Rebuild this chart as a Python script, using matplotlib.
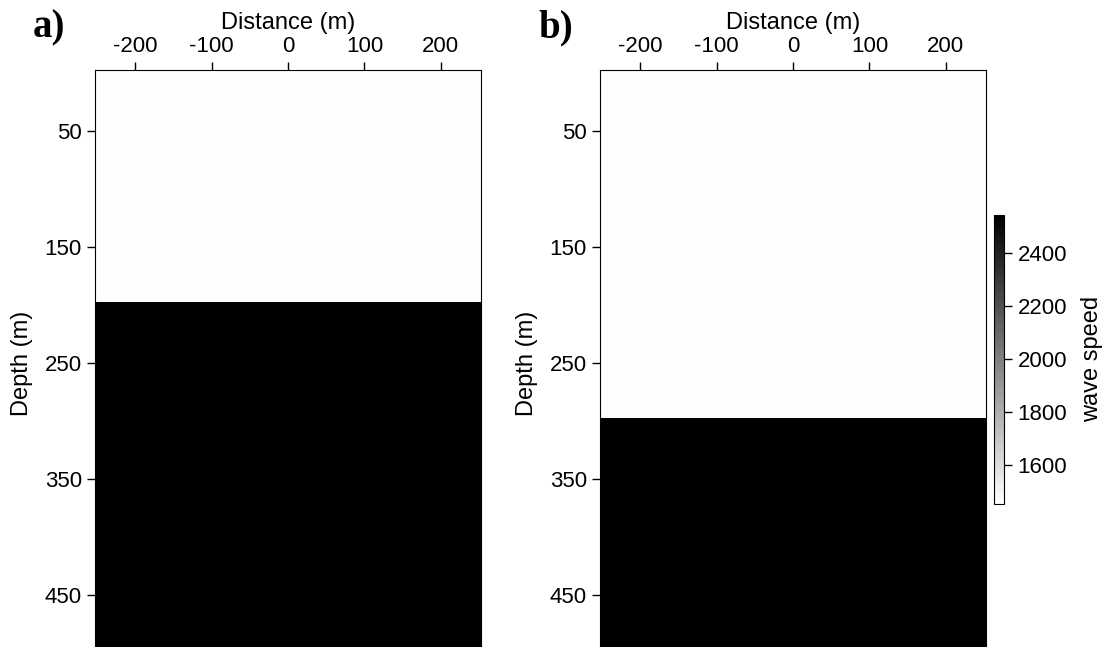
import numpy as np
import matplotlib
matplotlib.use('Agg')
import matplotlib.pyplot as plt
from matplotlib.cm import ScalarMappable
from matplotlib.colors import Normalize

plt.rcParams['font.family'] = ['Liberation Sans', 'DejaVu Sans']
plt.rcParams['font.size'] = 16

# model grid (m)
x = np.arange(-250, 255, 5)
z = np.arange(0, 505, 5)

# two-layer models: interface depth and layer speeds
interface_depths = [200, 300]
layer_speeds = [1500, 2500]
panel_labels = ['a)', 'b)']

xticks = [-200, -100, 0, 100, 200]
yticks = [50, 150, 250, 350, 450]
cbar_ticks = [1600, 1800, 2000, 2200, 2400]
cbar_min, cbar_max = 1455, 2545

W, H = 1107, 647
fig = plt.figure(figsize=(W / 100, H / 100), dpi=100)

dx = x[1] - x[0]
dz = z[1] - z[0]
extent = [x[0] - dx / 2, x[-1] + dx / 2, z[-1] + dz / 2, z[0] - dz / 2]

lefts = [95, 600]
for i, depth in enumerate(interface_depths):
    ax = fig.add_axes([lefts[i] / W, (H - 656) / H, 386 / W, 586 / H])
    model = np.where(z[:, None] >= depth, layer_speeds[1], layer_speeds[0]) * np.ones((1, len(x)))
    ax.imshow(model, extent=extent, aspect='auto', cmap='gray_r',
              vmin=min(layer_speeds) - 8, vmax=max(layer_speeds), interpolation='nearest')
    ax.xaxis.tick_top()
    ax.xaxis.set_label_position('top')
    ax.set_xticks(xticks)
    ax.set_yticks(yticks)
    ax.set_xlabel('Distance (m)', fontsize=17, labelpad=5)
    ax.set_ylabel('Depth (m)', fontsize=17, labelpad=8)
    ax.tick_params(direction='out', length=6, width=1)
    ax.set_xticklabels(['-200', '-100', '0', '100', '200'])
    fig.text((lefts[i] - 62) / W, 1 - 37 / H, panel_labels[i], family='Liberation Serif',
             fontweight='bold', fontsize=28, va='baseline', ha='left')

cax = fig.add_axes([994.5 / W, (H - 503.5) / H, 10 / W, 288.5 / H])
sm = ScalarMappable(norm=Normalize(cbar_min, cbar_max), cmap='gray_r')
cb = fig.colorbar(sm, cax=cax, ticks=cbar_ticks)
cb.set_label('wave speed', fontsize=17, labelpad=10)
cb.ax.tick_params(length=6, width=1)

fig.savefig('out.png', dpi=100)
